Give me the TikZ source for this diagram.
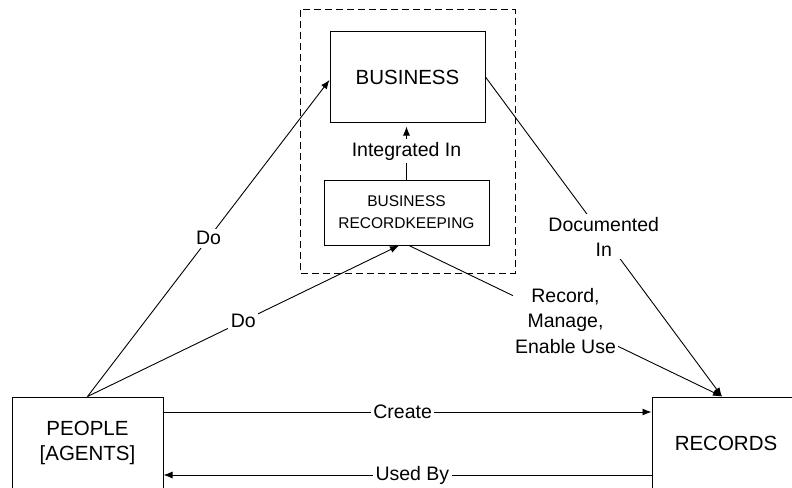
\documentclass[tikz,border=0pt]{standalone}
\usepackage{fontspec}
\setmainfont{Liberation Sans}
\usetikzlibrary{arrows.meta,calc}
\begin{document}
\begin{tikzpicture}[x=1pt,y=-1pt,
  box/.style={draw,line width=1pt,inner sep=0pt,align=center},
  bigtxt/.style={font=\fontsize{20.5}{25}\selectfont},
  lbl/.style={fill=white,inner sep=2.5pt,align=center,font=\fontsize{19.5}{25.5}\selectfont},
  conn/.style={line width=0.9pt,-{Latex[length=9pt,width=7pt]}},
]
\useasboundingbox (0,0) rectangle (792,487);
% scope boundary around the business part
\draw[line width=1pt,dash pattern=on 7pt off 4pt] (300,10) rectangle (515,273);
% boxes
\node[box,bigtxt,minimum width=155pt,minimum height=90pt] (bus) at (407.5,77) {BUSINESS};
\node[box,font=\fontsize{15.5}{22}\selectfont,minimum width=165pt,minimum height=65pt] (rk) at (406.5,212.5) {BUSINESS\\RECORDKEEPING};
\node[box,bigtxt,minimum width=151pt,minimum height=92pt] (ppl) at (87.5,443) {PEOPLE\\{}[AGENTS]};
\node[box,bigtxt,minimum width=148pt,minimum height=92pt] (rec) at (726,443) {RECORDS};
% connectors
\draw[conn] (ppl.north) -- node[lbl]{Do} ($(bus.west)+(0,3)$);
\draw[conn] (ppl.north) -- node[lbl]{Do} ($(rk.south)+(-7.5,0)$);
\draw[conn,shorten >=4pt] (rk.north) -- node[lbl]{Integrated In} (rk.north |- bus.south);
\draw[conn] (bus.east) -- node[lbl]{Documented\\In} ($(rec.north)+(-4,0)$);
\draw[conn] ($(rk.south)+(2.5,0)$) -- node[lbl]{Record,\\Manage,\\Enable Use} ($(rec.north)+(-4,0)$);
\draw[conn] ($(ppl.east)+(0,-31)$) -- node[lbl,pos=0.49]{Create} ($(rec.west)+(0,-31)$);
\draw[conn] ($(rec.west)+(0,32)$) -- node[lbl,pos=0.49]{Used By} ($(ppl.east)+(0,32)$);
\end{tikzpicture}
\end{document}
